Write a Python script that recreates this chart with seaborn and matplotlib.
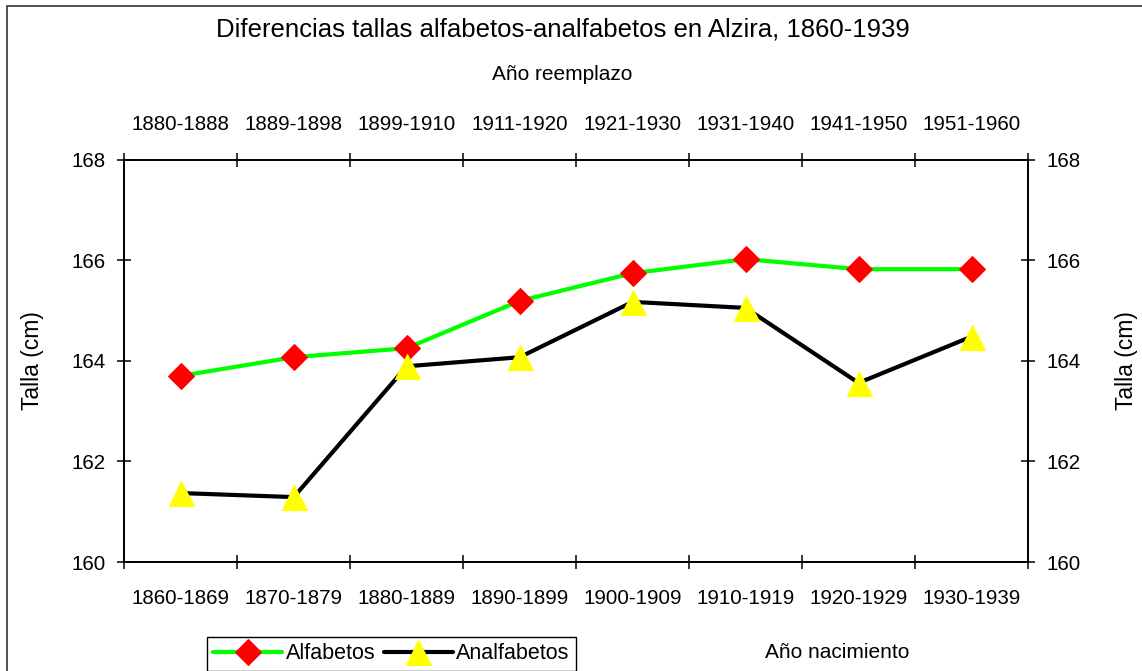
import numpy as np
import pandas as pd
import seaborn as sns
import matplotlib
matplotlib.use("Agg")
import matplotlib.pyplot as plt
from matplotlib.patches import Rectangle

# datos
nacimiento = ["1860-1869", "1870-1879", "1880-1889", "1890-1899",
              "1900-1909", "1910-1919", "1920-1929", "1930-1939"]
reemplazo = ["1880-1888", "1889-1898", "1899-1910", "1911-1920",
             "1921-1930", "1931-1940", "1941-1950", "1951-1960"]
alfabetos = [163.70, 164.07, 164.25, 165.19, 165.74, 166.02, 165.82, 165.82]
analfabetos = [161.37, 161.29, 163.89, 164.07, 165.17, 165.05, 163.56, 164.48]

df = pd.DataFrame({"nacimiento": nacimiento,
                   "Alfabetos": alfabetos,
                   "Analfabetos": analfabetos})

sns.set_style("white")
plt.rcParams["font.family"] = ["Liberation Sans", "DejaVu Sans"]
plt.rcParams["axes.edgecolor"] = "black"
plt.rcParams["axes.linewidth"] = 1.1
plt.rcParams["text.color"] = "black"
plt.rcParams["axes.labelcolor"] = "black"
plt.rcParams["xtick.color"] = "black"
plt.rcParams["ytick.color"] = "black"

fig = plt.figure(figsize=(11.42, 6.71), dpi=100)
ax = fig.add_axes([124.3 / 1142, 1 - 562 / 671, 903.7 / 1142, 402.5 / 671])

sns.lineplot(data=df, x="nacimiento", y="Alfabetos", sort=False, ax=ax,
             color="#00FF00", linewidth=3, marker="D", markersize=13,
             markerfacecolor="#FF0000", markeredgecolor="#FF0000",
             label="Alfabetos")
sns.lineplot(data=df, x="nacimiento", y="Analfabetos", sort=False, ax=ax,
             color="black", linewidth=3, marker="^", markersize=18,
             markerfacecolor="#FFFF00", markeredgecolor="#FFFF00",
             label="Analfabetos")

n = len(nacimiento)
bordes = np.arange(-0.5, n, 1)
centros = np.arange(n)

ax.set_xlim(-0.5, n - 0.5)
ax.set_ylim(160, 168)
ax.set_yticks([160, 162, 164, 166, 168])
ax.set_xticks(bordes)
ax.set_xticklabels([])
ax.set_xticks(centros, minor=True)
ax.set_xticklabels(nacimiento, minor=True)
ax.tick_params(axis="both", which="major", direction="inout", length=10,
               width=1.1, labelsize=14.8, pad=8.6, left=True, bottom=True)
ax.tick_params(axis="x", which="minor", length=0, labelsize=14.8, pad=19.5)
ax.set_xlabel("")
ax.set_ylabel("Talla (cm)", fontsize=16.5, va="center", ha="center")
ax.yaxis.set_label_coords((33 - 124.3) / 903.7, 0.5)

# eje superior: año de reemplazo
axt = ax.twiny()
axt.set_xlim(-0.5, n - 0.5)
axt.set_xticks(bordes)
axt.set_xticklabels([])
axt.set_xticks(centros, minor=True)
axt.set_xticklabels(reemplazo, minor=True)
axt.tick_params(axis="x", which="major", direction="inout", length=10,
                width=1.1, top=True)
axt.tick_params(axis="x", which="minor", length=0, labelsize=14.8, pad=18.5)

# eje derecho
axr = ax.twinx()
axr.set_ylim(160, 168)
axr.set_yticks([160, 162, 164, 166, 168])
axr.tick_params(axis="y", direction="inout", length=10, width=1.1,
                labelsize=14.8, pad=8.6, right=True)
axr.set_ylabel("Talla (cm)", fontsize=16.5, rotation=90,
               va="center", ha="center")
axr.yaxis.set_label_coords((1126 - 124.3) / 903.7, 0.5)

ax.get_legend().remove()
handles, labels = ax.get_legend_handles_labels()
leg = fig.legend(handles, labels, loc="upper left",
                 bbox_to_anchor=(207 / 1142, 1 - 637 / 671), ncol=2,
                 fontsize=15.5, frameon=True, fancybox=False, shadow=False,
                 edgecolor="black", framealpha=1, handlelength=3.2,
                 handletextpad=0.15, columnspacing=0.4, borderpad=0.3,
                 borderaxespad=0)
leg.get_frame().set_linewidth(1.0)

fig.text(563 / 1142, 1 - 30 / 671,
         "Diferencias tallas alfabetos-analfabetos en Alzira, 1860-1939",
         ha="center", va="center", fontsize=18.5)
fig.text(562 / 1142, 1 - 75 / 671, "Año reemplazo",
         ha="center", va="center", fontsize=15)
fig.text(837 / 1142, 1 - 653 / 671, "Año nacimiento",
         ha="center", va="center", fontsize=15)

# marco del gráfico
fig.patches.append(Rectangle((7 / 1142, -0.05), 1.2, 1 - 5.5 / 671 + 0.05,
                             transform=fig.transFigure, fill=False,
                             edgecolor="#222222", linewidth=1.1))

fig.savefig("out.png", dpi=100)
